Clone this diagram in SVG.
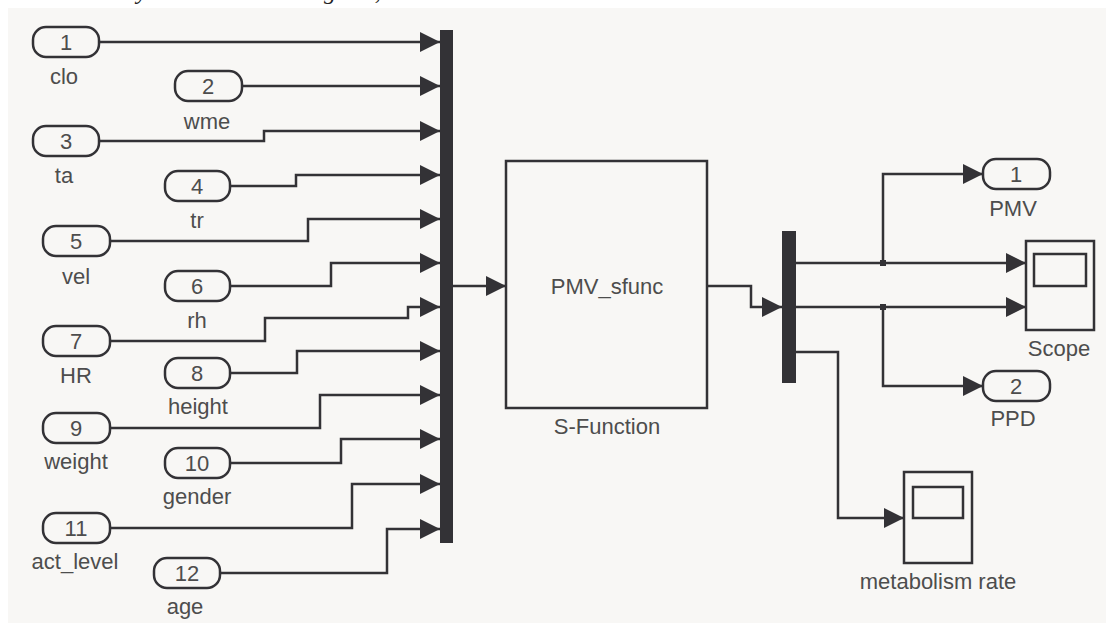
<svg xmlns="http://www.w3.org/2000/svg" width="1106" height="625" viewBox="0 0 1106 625">
<defs>
<style>
.bg{fill:#f8f7f5}
.port{fill:none;stroke:#333236;stroke-width:2.5}
.blk{fill:none;stroke:#333236;stroke-width:2.5}
.bus{fill:#333236}
.t{font-family:"Liberation Sans",Arial,sans-serif;font-size:22px;fill:#4d4d4d;text-anchor:middle;dominant-baseline:central}
.w{fill:none;stroke:#333236;stroke-width:2.5;marker-end:url(#ah)}
.top{font-family:"Liberation Serif","Times New Roman",serif;font-style:italic;font-size:24px;fill:#222}
</style>
<marker id="ah" markerUnits="userSpaceOnUse" markerWidth="20" markerHeight="20" refX="20" refY="10" orient="auto">
<path d="M0,0 L20,10 L0,20 z" fill="#333236"/>
</marker>
</defs>
<rect x="0" y="0" width="1106" height="625" fill="#ffffff"/>
<text class="top" x="78" y="-1">Finally in the last sub diagram, the PMV and PPD can be calculated.</text>
<rect class="bg" x="8" y="8" width="1098" height="615"/>

<g id="in1"><rect class="port" x="33" y="27" width="66" height="30" rx="13"/><text class="t" x="66" y="42">1</text><text class="t" x="64" y="76">clo</text></g>
<g id="in2"><rect class="port" x="175" y="71" width="67" height="30" rx="13"/><text class="t" x="208" y="86">2</text><text class="t" x="207" y="121">wme</text></g>
<g id="in3"><rect class="port" x="33" y="126" width="66" height="30" rx="13"/><text class="t" x="66" y="141">3</text><text class="t" x="64" y="175">ta</text></g>
<g id="in4"><rect class="port" x="165" y="171" width="65" height="30" rx="13"/><text class="t" x="197" y="186">4</text><text class="t" x="197" y="220">tr</text></g>
<g id="in5"><rect class="port" x="43" y="226" width="67" height="30" rx="13"/><text class="t" x="76" y="241">5</text><text class="t" x="76" y="276">vel</text></g>
<g id="in6"><rect class="port" x="165" y="271" width="65" height="30" rx="13"/><text class="t" x="197" y="286">6</text><text class="t" x="197" y="320">rh</text></g>
<g id="in7"><rect class="port" x="43" y="326" width="67" height="30" rx="13"/><text class="t" x="76" y="341">7</text><text class="t" x="76" y="375">HR</text></g>
<g id="in8"><rect class="port" x="165" y="358" width="65" height="30" rx="13"/><text class="t" x="197" y="373">8</text><text class="t" x="198" y="406">height</text></g>
<g id="in9"><rect class="port" x="43" y="413" width="67" height="30" rx="13"/><text class="t" x="76" y="428">9</text><text class="t" x="76" y="461">weight</text></g>
<g id="in10"><rect class="port" x="165" y="448" width="65" height="30" rx="13"/><text class="t" x="197" y="463">10</text><text class="t" x="197" y="496">gender</text></g>
<g id="in11"><rect class="port" x="43" y="513" width="67" height="30" rx="13"/><text class="t" x="76" y="528">11</text><text class="t" x="75" y="561">act_level</text></g>
<g id="in12"><rect class="port" x="154" y="558" width="66" height="30" rx="13"/><text class="t" x="187" y="573">12</text><text class="t" x="185" y="606">age</text></g>

<g id="mux"><rect class="bus" x="440" y="30" width="13" height="513"/></g>
<g id="sfunc"><rect class="blk" x="506" y="161" width="201" height="247"/><text class="t" x="607" y="286">PMV_sfunc</text><text class="t" x="607" y="426">S-Function</text></g>
<g id="demux"><rect class="bus" x="782" y="231" width="14" height="152"/></g>
<g id="out1"><rect class="port" x="983" y="159" width="67" height="30" rx="13"/><text class="t" x="1016" y="174">1</text><text class="t" x="1013" y="208">PMV</text></g>
<g id="out2"><rect class="port" x="983" y="371" width="67" height="30" rx="13"/><text class="t" x="1016" y="386">2</text><text class="t" x="1013" y="418">PPD</text></g>
<g id="scope"><rect class="blk" x="1026" y="241" width="68" height="89"/><rect class="blk" x="1034" y="254" width="52" height="32"/><text class="t" x="1059" y="348">Scope</text></g>
<g id="metab"><rect class="blk" x="904" y="472" width="68" height="91"/><rect class="blk" x="913" y="487" width="50" height="31"/><text class="t" x="938" y="581">metabolism rate</text></g>

<g id="connectors">
<polyline class="w" points="99,42 440,42"/>
<polyline class="w" points="242,86 440,86"/>
<polyline class="w" points="99,141 264,141 264,131 440,131"/>
<polyline class="w" points="230,186 296,186 296,175 440,175"/>
<polyline class="w" points="110,241 308,241 308,219 440,219"/>
<polyline class="w" points="230,286 331,286 331,263 440,263"/>
<polyline class="w" points="110,341 265,341 265,318 408,318 408,307 440,307"/>
<polyline class="w" points="230,373 297,373 297,351 440,351"/>
<polyline class="w" points="110,428 320,428 320,395 440,395"/>
<polyline class="w" points="230,463 341,463 341,439 440,439"/>
<polyline class="w" points="110,528 352,528 352,484 440,484"/>
<polyline class="w" points="220,573 387,573 387,529 440,529"/>
<polyline class="w" points="453,286 506,286"/>
<polyline class="w" points="707,286 751,286 751,307 782,307"/>
<polyline class="w" points="796,263 1026,263"/>
<polyline class="w" points="796,307 1026,307"/>
<polyline class="w" points="883,263 883,174 983,174"/>
<polyline class="w" points="883,307 883,386 983,386"/>
<polyline class="w" points="796,352 838,352 838,518 904,518"/>
<rect class="bus" x="880" y="260" width="6" height="6"/>
<rect class="bus" x="880" y="304" width="6" height="6"/>
</g>
</svg>
